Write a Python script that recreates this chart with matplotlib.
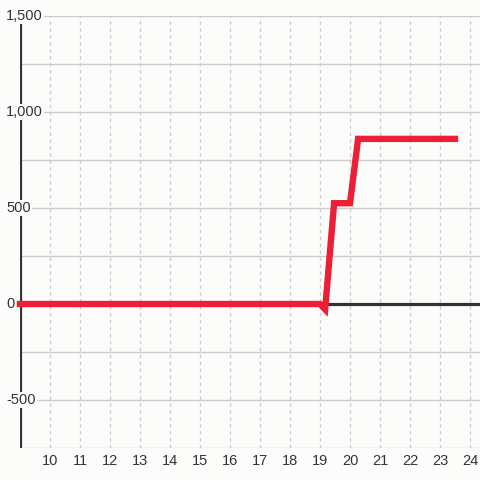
import matplotlib
matplotlib.use("Agg")
import matplotlib.pyplot as plt
from matplotlib import transforms

plt.rcParams['font.family'] = ['Liberation Sans', 'DejaVu Sans']

# data
x_vals = [9.0, 19.0, 19.17, 19.47, 20.0, 20.27, 23.5]
y_vals = [0, 0, -28, 525, 525, 860, 860]
x_ticks = list(range(10, 25))
y_ticks = [-500, 0, 500, 1000, 1500]
y_tick_labels = ['-500', '0', '500', '1,000', '1,500']
y_grid = [-750, -500, -250, 0, 250, 500, 750, 1000, 1250, 1500]

BG = '#fcfdfb'
DARK = '#333333'
GRID = '#cccccc'
RED = '#ed1f37'

fig = plt.figure(figsize=(4.8, 4.8), dpi=100, facecolor=BG)
ax = fig.add_axes([20/480, 32/480, 460/480, 432/480])
ax.set_facecolor(BG)
ax.set_xlim(9, 9 + 460/30)
ax.set_ylim(-750, 1500)

for s in ax.spines.values():
    s.set_visible(False)

for g in y_grid:
    ax.axhline(g, color=GRID, lw=1, zorder=1)
for xt in x_ticks:
    ax.axvline(xt, color=GRID, lw=1, ls=(0, (2.5, 2.5)), zorder=1)

ax.axvline(9, color=DARK, lw=2.3, zorder=3)
ax.axhline(0, color=DARK, lw=2.3, zorder=3)

ax.plot(x_vals, y_vals, color=RED, lw=4.6, solid_joinstyle='miter',
        solid_capstyle='projecting', zorder=5, clip_on=False)

ax.set_yticks([])
ax.set_xticks(x_ticks)
ax.set_xticklabels([str(t) for t in x_ticks], fontsize=10.5, color=DARK)
ax.tick_params(axis='x', length=0, pad=4)

trans = transforms.blended_transform_factory(fig.dpi_scale_trans, ax.transData)
for v, lab in zip(y_ticks, y_tick_labels):
    ax.text(6/100, v, lab, transform=trans, ha='left', va='center',
            fontsize=10.5, color=DARK, zorder=4, clip_on=False,
            bbox=dict(facecolor=BG, edgecolor='none', pad=1.0))

fig.savefig('out.png', dpi=100, facecolor=BG)
